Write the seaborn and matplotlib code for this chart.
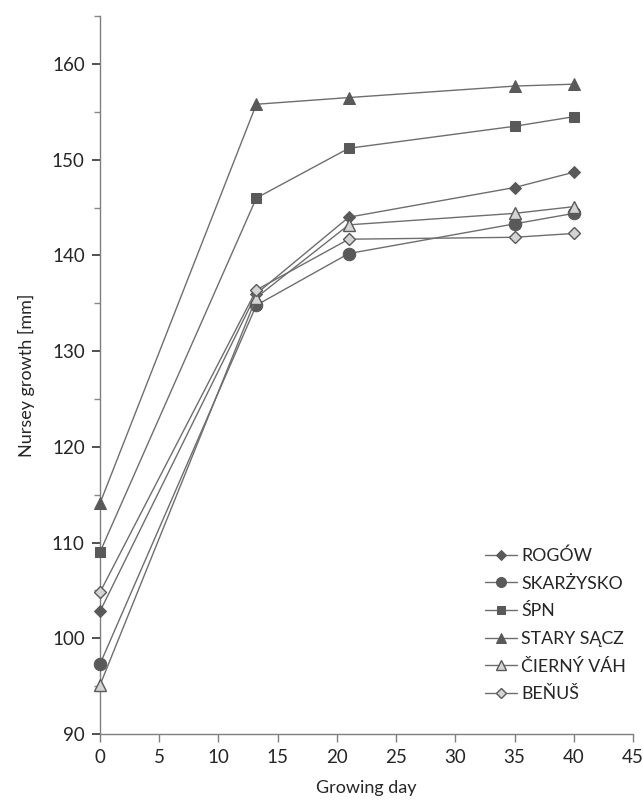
import matplotlib
matplotlib.use("Agg")
import matplotlib.pyplot as plt
import seaborn as sns
import pandas as pd
from matplotlib.ticker import MultipleLocator

days = [0, 13.2, 21, 35, 40]
series_names = ["ROGÓW", "SKARŻYSKO", "ŚPN", "STARY SĄCZ", "ČIERNÝ VÁH", "BEŇUŠ"]
rogow = [102.8, 136.0, 144.0, 147.1, 148.7]
skarzysko = [97.3, 134.8, 140.2, 143.3, 144.4]
spn = [109.0, 146.0, 151.2, 153.5, 154.5]
stary_sacz = [114.1, 155.8, 156.5, 157.7, 157.9]
cierny_vah = [95.1, 135.6, 143.2, 144.4, 145.1]
benus = [104.8, 136.4, 141.7, 141.9, 142.3]
values = [rogow, skarzysko, spn, stary_sacz, cierny_vah, benus]

x_ticks = [0, 5, 10, 15, 20, 25, 30, 35, 40, 45]
y_ticks = [90, 100, 110, 120, 130, 140, 150, 160]

sns.set_style("ticks")
plt.rcParams['font.family'] = ['Lato', 'DejaVu Sans']

dark = "#595959"
light = "#d4d4d4"
styles = {
    "ROGÓW": dict(marker="D", markersize=6.2, markerfacecolor=dark, markeredgecolor=dark),
    "SKARŻYSKO": dict(marker="o", markersize=9, markerfacecolor=dark, markeredgecolor=dark),
    "ŚPN": dict(marker="s", markersize=7.5, markerfacecolor=dark, markeredgecolor=dark),
    "STARY SĄCZ": dict(marker="^", markersize=9, markerfacecolor=dark, markeredgecolor=dark),
    "ČIERNÝ VÁH": dict(marker="^", markersize=9, markerfacecolor=light, markeredgecolor=dark, markeredgewidth=1.0),
    "BEŇUŠ": dict(marker="D", markersize=6.2, markerfacecolor=light, markeredgecolor=dark, markeredgewidth=1.0),
}

fig = plt.figure(figsize=(6.43, 8.11), dpi=100)
ax = fig.add_axes([0.1555, 0.095, 0.829, 0.885])

for name, vals in zip(series_names, values):
    df = pd.DataFrame({"day": days, "growth": vals})
    sns.lineplot(data=df, x="day", y="growth", ax=ax, color="#6e6e6e", linewidth=1.0,
                 label=name, clip_on=False, zorder=3, **styles[name])

ax.set_xlim(0, 45)
ax.set_ylim(90, 165)
ax.set_xticks(x_ticks)
ax.set_yticks(y_ticks)
ax.yaxis.set_minor_locator(MultipleLocator(5))
ax.tick_params(axis="both", which="major", labelsize=13.5, length=6, width=1.2, color="#333333",
               direction="out", pad=5)
ax.tick_params(axis="y", which="minor", length=4, width=1.0, color="#888888", direction="out")
ax.tick_params(axis="x", which="major", color="#7f7f7f", width=1.0)
for s in ["top", "right"]:
    ax.spines[s].set_visible(False)
for s in ["left", "bottom"]:
    ax.spines[s].set_color("#7f7f7f")
    ax.spines[s].set_linewidth(1.0)

ax.set_xlabel("Growing day", fontsize=13, labelpad=10)
ax.set_ylabel("Nursey growth [mm]", fontsize=13, labelpad=12)

leg = ax.legend(loc="lower right", bbox_to_anchor=(1.0, 0.034), frameon=False, fontsize=12.8,
                handlelength=1.8, handletextpad=0.25, labelspacing=0.66, borderaxespad=0.0,
                markerscale=0.8)

fig.savefig("out.png", dpi=100)
